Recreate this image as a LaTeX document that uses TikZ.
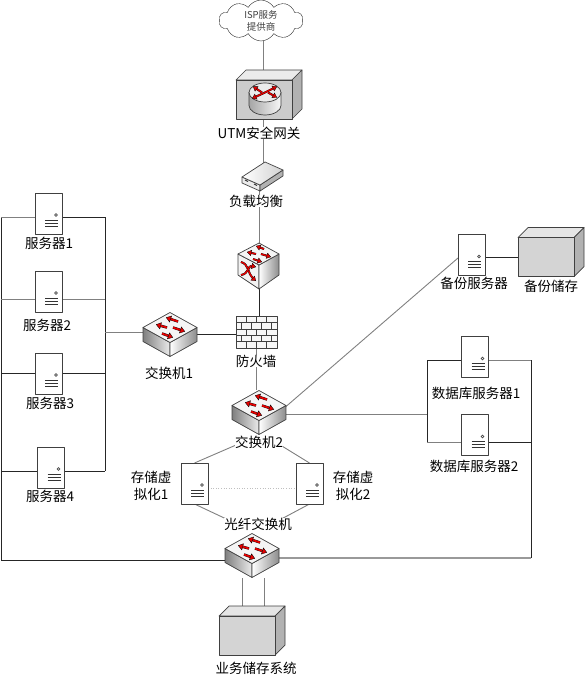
\documentclass[tikz,border=0pt]{standalone}
\usepackage{fontspec}
\setmainfont{Noto Sans CJK SC}
\usetikzlibrary{arrows.meta,shapes.symbols}

\tikzset{
  lbl/.style={font=\fontsize{13.5}{17}\selectfont,inner sep=0pt,fill=white,align=center},
  wire/.style={line width=.8pt,draw=black!85},
  greywire/.style={line width=.9pt,draw=black!50},
  slot/.style={inner sep=0pt,outer sep=0pt,minimum width=#1},
  edgeline/.style={draw=black!75,line width=.7pt,line join=round},
  redarrow/.style={double=red!90!black,double distance=1.8pt,line width=.35pt,draw=black,
    -{Triangle[length=5pt,width=7pt,fill=red!90!black]}},
  smallarrow/.style={redarrow,line width=.3pt,double distance=1.4pt,
    -{Triangle[length=4.5pt,width=6pt,fill=red!90!black]}},
  pics/server/.style={code={
    \draw [edgeline,fill=white] (-13.5,-20.5) rectangle (13.5,20.5);
    \draw [black!70,line width=.6pt] (7.5,1.5) circle [radius=1.4pt];
    \draw [black!80,line width=.8pt] (-3.5,6.5) -- (9.5,6.5);
    \draw [black!80,line width=.8pt] (-3.5,9.5) -- (9.5,9.5);
    \draw [black!80,line width=.8pt] (-3.5,12.5) -- (9.5,12.5);
  }},
  pics/switchbox/.style={code={
    \draw [edgeline,left color=black!50,right color=black!8] (-27,-7) -- (0,8) -- (0,22) -- (-27,7) -- cycle;
    \draw [edgeline,left color=white,right color=black!45] (27,-7) -- (0,8) -- (0,22) -- (27,7) -- cycle;
    \draw [edgeline,fill=black!4] (0,-22) -- (27,-7) -- (0,8) -- (-27,-7) -- cycle;
    \draw [redarrow] (8,-13) -- (-4,-17);
    \draw [redarrow] (-3,-7) -- (-14,-10);
    \draw [redarrow] (3,-7) -- (15,-3);
    \draw [redarrow] (-8,-1) -- (3,3);
  }},
  pics/cubebox/.style={code={
    \draw [edgeline,fill=black!5] (-21,-12) -- (0,-1) -- (0,23) -- (-21,9) -- cycle;
    \draw [edgeline,left color=white,right color=black!45] (20,-12) -- (0,-1) -- (0,23) -- (20,9) -- cycle;
    \draw [edgeline,fill=black!4] (0,-23) -- (20,-12) -- (0,-1) -- (-21,-12) -- cycle;
    \draw [smallarrow] (5,-17) -- (-3,-20);
    \draw [smallarrow] (-3,-12) -- (-12,-14);
    \draw [smallarrow] (2,-12) -- (12,-9);
    \draw [smallarrow] (-6,-7) -- (3,-4);
    \draw [smallarrow] (-18,-4) .. controls (-10,-2) and (-11,8) .. (-3,15);
    \draw [smallarrow] (-18,9) .. controls (-10,8) and (-11,-1) .. (-3,1);
  }},
  pics/storebox/.style={code={
    \draw [edgeline,fill=black!10] (-28,-19.5) -- (-18,-29.5) -- (38,-29.5) -- (28,-19.5) -- cycle;
    \draw [edgeline,fill=black!30] (28,-19.5) -- (38,-29.5) -- (38,9.5) -- (28,19.5) -- cycle;
    \draw [edgeline,fill=black!17] (-28,-19.5) rectangle (28,19.5);
  }},
  pics/routerbox/.style={code={
    \draw [edgeline,fill=black!8] (-28,-19.5) -- (-18,-29.5) -- (38,-29.5) -- (28,-19.5) -- cycle;
    \draw [edgeline,fill=black!30] (28,-19.5) -- (38,-29.5) -- (38,9.5) -- (28,19.5) -- cycle;
    \draw [edgeline,fill=black!20] (-28,-19.5) rectangle (28,19.5);
    \draw [edgeline,left color=black!35,right color=black!3] (-15,-7) -- (-15,6)
      .. controls (-15,11) and (-8,15.5) .. (1,15.5)
      .. controls (10,15.5) and (17,11) .. (17,6) -- (17,-7) -- cycle;
    \draw [edgeline,fill=black!8] (1,-7) circle [x radius=16,y radius=9.5];
    \draw [smallarrow] (1,-7) -- (-12,-1);
    \draw [smallarrow] (1,-7) -- (13,-13);
    \draw [smallarrow] (-2,-7) -- (-11,-13);
    \draw [smallarrow] (4,-7) -- (13,-2);
  }},
  pics/balancerbox/.style={code={
    \draw [edgeline,fill=black!8] (-17,-3) -- (1,5) -- (1,11) -- (-17,3) -- cycle;
    \draw [edgeline,fill=black!30] (24,-10) -- (1,5) -- (1,11) -- (24,-4) -- cycle;
    \draw [edgeline,left color=white,right color=black!18] (6,-18) -- (24,-10) -- (1,5) -- (-17,-3) -- cycle;
    \draw [black!80,line width=1pt] (-14,0) -- (-11,1.5);
    \draw [black!80,line width=1pt] (-5,4) -- (-2,5.5);
  }},
  pics/wallbox/.style={code={
    \draw [edgeline,fill=black!3] (-20.5,-16) rectangle (20.5,16);
    \foreach \y in {-9.6,-3.2,3.2,9.6}
      \draw [black!75,line width=.6pt] (-20.5,\y) -- (20.5,\y);
    \foreach \x in {-10.5,-.5,9.5} {
      \draw [black!75,line width=.6pt] (\x,-16) -- (\x,-9.6);
      \draw [black!75,line width=.6pt] (\x,-3.2) -- (\x,3.2);
      \draw [black!75,line width=.6pt] (\x,9.6) -- (\x,16);
    }
    \foreach \x in {-15.5,-5.5,4.5,14.5} {
      \draw [black!75,line width=.6pt] (\x,-9.6) -- (\x,-3.2);
      \draw [black!75,line width=.6pt] (\x,3.2) -- (\x,9.6);
    }
  }},
}

\begin{document}
\begin{tikzpicture}[x=1pt,y=-1pt]
\useasboundingbox (0,0) rectangle (586,679);

% empty slots, the icons go on top of the wires
\node [slot=27pt,minimum height=41pt] (S1) at (48.5,213.5) {};
\node [slot=27pt,minimum height=41pt] (S2) at (48.5,291.5) {};
\node [slot=27pt,minimum height=41pt] (S3) at (48.5,373.5) {};
\node [slot=27pt,minimum height=41pt] (S4) at (51,467.5) {};
\node [slot=27pt,minimum height=41pt] (BK) at (471.5,255) {};
\node [slot=27pt,minimum height=41pt] (DB1) at (475,357) {};
\node [slot=27pt,minimum height=41pt] (DB2) at (475,435) {};
\node [slot=27pt,minimum height=41pt] (SV1) at (194.5,483.5) {};
\node [slot=27pt,minimum height=41pt] (SV2) at (309.5,483.5) {};
\node [slot=54pt,minimum height=45pt] (SW1) at (170,334.5) {};
\node [slot=54pt,minimum height=45pt] (SW2) at (259,412.5) {};
\node [slot=54pt,minimum height=45pt] (FC) at (252,555.5) {};
\node [slot=41pt,minimum height=46pt] (CORE) at (259,266) {};
\node [slot=41pt,minimum height=32pt] (WALL) at (256.5,332) {};
\node [slot=56pt,minimum height=39pt] (UTM) at (264,99.5) {};
\node [slot=41pt,minimum height=22pt] (LB) at (259,180) {};
\node [slot=56pt,minimum height=39pt] (BKS) at (546,257) {};
\node [slot=56pt,minimum height=39pt] (SAN) at (247,635.5) {};
\node [cloud,cloud puffs=10,cloud puff arc=120,aspect=2.2,draw=black!85,fill=white,inner sep=0pt,
  minimum width=84pt,minimum height=41pt,font=\fontsize{9.5}{12}\selectfont,text=black!75,align=center]
  (ISP) at (261,20.5) {ISP服务\\提供商};

\coordinate (A1) at (1,217);
\coordinate (A2) at (1,299);
\coordinate (A3) at (1,373);
\coordinate (A4) at (1,471);
\coordinate (A5) at (1,560);
\coordinate (B1) at (105,217);
\coordinate (B2) at (105,299);
\coordinate (B3) at (105,373);
\coordinate (B4) at (105,471);
\coordinate (B5) at (105,332);
\coordinate (C1) at (427,360);
\coordinate (C2) at (427,414);
\coordinate (C3) at (427,442);
\coordinate (D1) at (531,360);
\coordinate (D2) at (531,442);
\coordinate (D3) at (531,558);

\draw [wire] (A1) -- (A5) -- (A5 -| FC.west);
\draw [wire] (B1) -- (B4);
\draw [greywire] (A1) -- (A1 -| S1.west);
\draw [wire] (S1.east |- B1) -- (B1);
\draw [greywire] (A2) -- (A2 -| S2.west);
\draw [greywire] (S2.east |- B2) -- (B2);
\draw [wire] (A3) -- (A3 -| S3.west);
\draw [wire] (S3.east |- B3) -- (B3);
\draw [wire] (A4) -- (A4 -| S4.west);
\draw [wire] (S4.east |- B4) -- (B4);
\draw [greywire] (B5) -- (B5 -| SW1.west);

\draw [wire] (SW1.east) -- (SW1.east -| WALL.west);
\draw [greywire] (ISP.south -| UTM.north) ++(-1,0) -- ++(0,30);
\draw [greywire] ([xshift=-1pt]UTM.south) -- ([xshift=4pt]LB.north);
\draw [greywire] (LB.south) -- (CORE.north);
\draw [wire] (CORE.south) -- (WALL.north -| CORE.south);
\draw [greywire] (WALL.south) -- (WALL.south |- SW2.north);

\draw [greywire] ([yshift=6pt]SW2.east) -- ([yshift=-3pt]BK.west);
\draw [wire] (BK.east |- BKS.west) -- (BKS.west);
\draw [greywire] (SW2.east |- C2) -- (C2);
\draw [wire] (C1) -- (C3);
\draw [wire] (C1) -- (C1 -| DB1.west);
\draw [greywire] (C3) -- (C3 -| DB2.west);
\draw [greywire] (DB1.east |- D1) -- (D1);
\draw [wire] (D1) -- (D3);
\draw [greywire,line width=1.2pt,draw=black!40] (D3) -- (D3 -| FC.east);
\draw [wire] (DB2.east |- D2) -- (D2);

\draw [greywire] (SV1.north) -- ([xshift=-16pt,yshift=-7pt]SW2.south);
\draw [greywire] (SV2.north) -- ([xshift=18pt,yshift=-8pt]SW2.south);
\draw [greywire] (SV1.south) -- ([xshift=-15pt,yshift=9pt]FC.north);
\draw [greywire] (SV2.south) -- ([xshift=20pt,yshift=9pt]FC.north);
\draw [black!25,line width=.6pt,dotted] ([yshift=-4.5pt]SV1.east) -- ([yshift=-4.5pt]SV2.west);

\draw [greywire] ([xshift=-10pt]FC.south) -- ([xshift=-5pt]SAN.north);
\draw [greywire] ([xshift=12pt]FC.south) -- ([xshift=17pt]SAN.north);

% icons
\foreach \n in {S1,S2,S3,S4,BK,DB1,DB2,SV1,SV2}
  \pic at (\n) {server};
\foreach \n in {SW1,SW2,FC}
  \pic at (\n) {switchbox};
\pic at (CORE) {cubebox};
\pic at (WALL) {wallbox};
\pic at (UTM) {routerbox};
\pic at (LB) {balancerbox};
\pic at (BKS) {storebox};
\pic at (SAN) {storebox};

% labels
\node [lbl] (lS1) at (49,243) {服务器1};
\node [lbl] (lS2) at (47,325) {服务器2};
\node [lbl] (lS3) at (50,403) {服务器3};
\node [lbl] (lS4) at (50,496) {服务器4};
\node [lbl] (lSW1) at (169,373) {交换机1};
\node [lbl] (lWALL) at (256,361) {防火墙};
\node [lbl] (lSW2) at (259,442) {交换机2};
\node [lbl] (lUTM) at (259,133) {UTM安全网关};
\node [lbl] (lLB) at (256,201) {负载均衡};
\node [lbl] (lBK) at (474,283) {备份服务器};
\node [lbl] (lBKS) at (551,286) {备份储存};
\node [lbl] (lDB1) at (476,393) {数据库服务器1};
\node [lbl] (lDB2) at (474,466) {数据库服务器2};
\node [lbl] (lSV1) at (151,486) {存储虚\\拟化1};
\node [lbl] (lSV2) at (353,486) {存储虚\\拟化2};
\node [lbl] (lFC) at (258,524) {光纤交换机};
\node [lbl] (lSAN) at (256,668) {业务储存系统};

\end{tikzpicture}
\end{document}
